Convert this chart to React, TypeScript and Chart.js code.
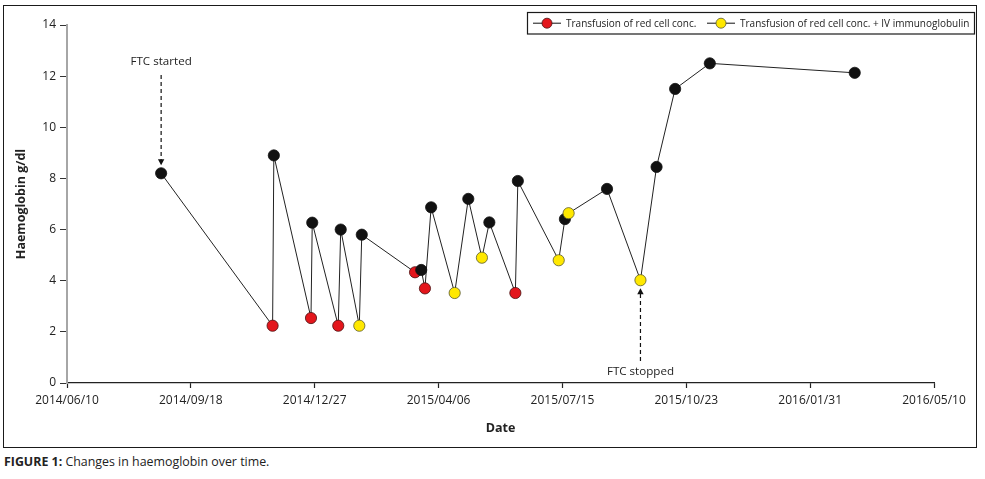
import React, { useEffect, useRef } from "react";
import { Chart, registerables } from "chart.js";

Chart.register(...registerables);

// ---- data ----
const sampleDates = [
  "2014-08-25", "2014-11-23", "2014-11-24", "2014-12-24", "2014-12-25",
  "2015-01-15", "2015-01-17", "2015-02-01", "2015-02-03", "2015-03-18",
  "2015-03-23", "2015-03-26", "2015-03-31", "2015-04-19", "2015-04-30",
  "2015-05-11", "2015-05-17", "2015-06-07", "2015-06-09", "2015-07-12",
  "2015-07-17", "2015-07-20", "2015-08-20", "2015-09-16", "2015-09-29",
  "2015-10-14", "2015-11-11", "2016-03-07",
];
const haemoglobin = [
  8.2, 2.24, 8.9, 2.54, 6.27, 2.24, 6.0, 2.24, 5.8, 4.33,
  4.42, 3.7, 6.87, 3.52, 7.2, 4.9, 6.28, 3.52, 7.9, 4.8,
  6.41, 6.64, 7.59, 4.02, 8.45, 11.5, 12.5, 12.13,
];
const treatment = [
  "none", "red", "none", "red", "none", "red", "none", "yellow", "none", "red",
  "none", "red", "none", "yellow", "none", "yellow", "none", "red", "none", "yellow",
  "none", "yellow", "none", "yellow", "none", "none", "none", "none",
];
const xTickDates = [
  "2014-06-10", "2014-09-18", "2014-12-27", "2015-04-06",
  "2015-07-15", "2015-10-23", "2016-01-31", "2016-05-10",
];
const xTickLabels = [
  "2014/06/10", "2014/09/18", "2014/12/27", "2015/04/06",
  "2015/07/15", "2015/10/23", "2016/01/31", "2016/05/10",
];
const legendLabels = [
  "Transfusion of red cell conc.",
  "Transfusion of red cell conc. + IV immunoglobulin",
];
const legendKinds = ["red", "yellow"];
const annotationTexts = ["FTC started", "FTC stopped"];
const annotationIndex = [0, 23];

const FILL: Record<string, string> = { none: "#111111", red: "#e3161c", yellow: "#ffe800" };
const EDGE: Record<string, string> = { none: "#111111", red: "#4a1010", yellow: "#5a5a30" };
const FONT = "'Open Sans', sans-serif";

const toMs = (d: string) => {
  const [y, m, dd] = d.split("-").map(Number);
  return Date.UTC(y, m - 1, dd);
};

function drawArrow(ctx: CanvasRenderingContext2D, x: number, yFrom: number, yTip: number) {
  const dir = yTip > yFrom ? 1 : -1;
  ctx.save();
  ctx.strokeStyle = "#111";
  ctx.fillStyle = "#111";
  ctx.lineWidth = 1.2;
  ctx.setLineDash([4, 3]);
  ctx.beginPath();
  ctx.moveTo(x, yFrom);
  ctx.lineTo(x, yTip - dir * 5);
  ctx.stroke();
  ctx.setLineDash([]);
  ctx.beginPath();
  ctx.moveTo(x, yTip);
  ctx.lineTo(x - 3.2, yTip - dir * 6);
  ctx.lineTo(x + 3.2, yTip - dir * 6);
  ctx.closePath();
  ctx.fill();
  ctx.restore();
}

const overlayPlugin = {
  id: "overlay",
  afterDraw(chart: any) {
    const ctx: CanvasRenderingContext2D = chart.ctx;
    const xs = chart.scales.x;
    const ys = chart.scales.y;

    // annotations
    ctx.save();
    ctx.font = `11.6px ${FONT}`;
    ctx.fillStyle = "#222";
    ctx.textAlign = "center";
    ctx.textBaseline = "middle";
    {
      const i = annotationIndex[0];
      const px = xs.getPixelForValue(toMs(sampleDates[i]));
      const py = ys.getPixelForValue(haemoglobin[i]);
      ctx.fillText(annotationTexts[0], px, 62);
      drawArrow(ctx, px, 75, py - 8);
    }
    {
      const i = annotationIndex[1];
      const px = xs.getPixelForValue(toMs(sampleDates[i]));
      const py = ys.getPixelForValue(haemoglobin[i]);
      ctx.fillText(annotationTexts[1], px, 372);
      drawArrow(ctx, px, 361, py + 8);
    }
    ctx.restore();

    // legend
    ctx.save();
    ctx.strokeStyle = "#1a1a1a";
    ctx.lineWidth = 1.2;
    ctx.strokeRect(527.5, 12.5, 447, 21.5);
    ctx.font = `10px ${FONT}`;
    ctx.textBaseline = "middle";
    ctx.textAlign = "left";
    const ly = 23.2;
    const entries = [
      { l0: 533, l1: 561, cx: 547, tx: 566 },
      { l0: 707, l1: 735, cx: 721, tx: 740 },
    ];
    entries.forEach((e, k) => {
      ctx.strokeStyle = "#111";
      ctx.lineWidth = 1;
      ctx.beginPath();
      ctx.moveTo(e.l0, ly);
      ctx.lineTo(e.l1, ly);
      ctx.stroke();
      ctx.beginPath();
      ctx.arc(e.cx, ly, 5, 0, Math.PI * 2);
      ctx.fillStyle = FILL[legendKinds[k]];
      ctx.fill();
      ctx.strokeStyle = EDGE[legendKinds[k]];
      ctx.lineWidth = 0.8;
      ctx.stroke();
      ctx.fillStyle = "#222";
      ctx.fillText(legendLabels[k], e.tx, ly + 0.5);
    });
    ctx.restore();
  },
};

export default function App() {
  const canvasRef = useRef<HTMLCanvasElement | null>(null);

  useEffect(() => {
    if (!canvasRef.current) return;
    const points = sampleDates.map((d, i) => ({ x: toMs(d), y: haemoglobin[i] }));
    const chart = new Chart(canvasRef.current, {
      type: "line",
      data: {
        datasets: [
          {
            label: "Haemoglobin",
            data: points,
            borderColor: "#222",
            borderWidth: 1,
            tension: 0,
            pointRadius: 5.6,
            pointHoverRadius: 5.6,
            pointBackgroundColor: treatment.map((t) => FILL[t]),
            pointBorderColor: treatment.map((t) => EDGE[t]),
            pointBorderWidth: 0.8,
          },
        ],
      },
      options: {
        responsive: false,
        animation: false,
        devicePixelRatio: 1,
        layout: { padding: { left: 0, right: 51, top: 25, bottom: 0 } },
        plugins: {
          legend: { display: false },
          tooltip: { enabled: false },
        },
        scales: {
          x: {
            type: "linear",
            position: "bottom",
            min: toMs(xTickDates[0]),
            max: toMs(xTickDates[xTickDates.length - 1]),
            afterBuildTicks: (s: any) => {
              s.ticks = xTickDates.map((d) => ({ value: toMs(d) }));
            },
            afterFit: (s: any) => {
              s.height = 65;
            },
            border: { color: "#222", width: 1.2 },
            grid: { drawOnChartArea: false, drawTicks: true, tickLength: 5, tickColor: "#222", tickWidth: 1.2 },
            ticks: {
              autoSkip: false,
              maxRotation: 0,
              padding: 5,
              color: "#222",
              font: { family: FONT, size: 12 },
              callback: (_v: any, i: number) => xTickLabels[i],
            },
            title: {
              display: true,
              text: "Date",
              color: "#222",
              font: { family: FONT, size: 12.5, weight: "bold" },
              padding: { top: 0, bottom: 12 },
            },
          },
          y: {
            min: 0,
            max: 14,
            afterFit: (s: any) => {
              s.width = 67;
            },
            border: { color: "#a6a6a6", width: 2 },
            grid: { drawOnChartArea: false, drawTicks: true, tickLength: 7, tickColor: "#333", tickWidth: 1 },
            ticks: {
              stepSize: 2,
              padding: 4,
              color: "#222",
              font: { family: FONT, size: 12 },
            },
            title: {
              display: true,
              text: "Haemoglobin g/dl",
              color: "#222",
              font: { family: FONT, size: 12.5, weight: "bold" },
              padding: { top: 14, bottom: 0 },
            },
          },
        },
      },
      plugins: [overlayPlugin],
    });
    return () => chart.destroy();
  }, []);

  return (
    <div style={{ position: "fixed", left: 0, top: 0, width: 985, height: 479, background: "#fff", overflow: "hidden" }}>
      <canvas ref={canvasRef} width={985} height={448} style={{ position: "absolute", left: 0, top: 0 }} />
      <div
        style={{
          position: "absolute",
          left: 3,
          top: 5,
          width: 974,
          height: 443,
          border: "1.5px solid #1a1a1a",
          boxSizing: "border-box",
          pointerEvents: "none",
        }}
      />
      <div
        style={{
          position: "absolute",
          left: 4,
          top: 454,
          fontFamily: FONT,
          fontSize: 12.4,
          lineHeight: "16px",
          color: "#222",
          whiteSpace: "nowrap",
        }}
      >
        <b>FIGURE 1:</b> Changes in haemoglobin over time.
      </div>
    </div>
  );
}
